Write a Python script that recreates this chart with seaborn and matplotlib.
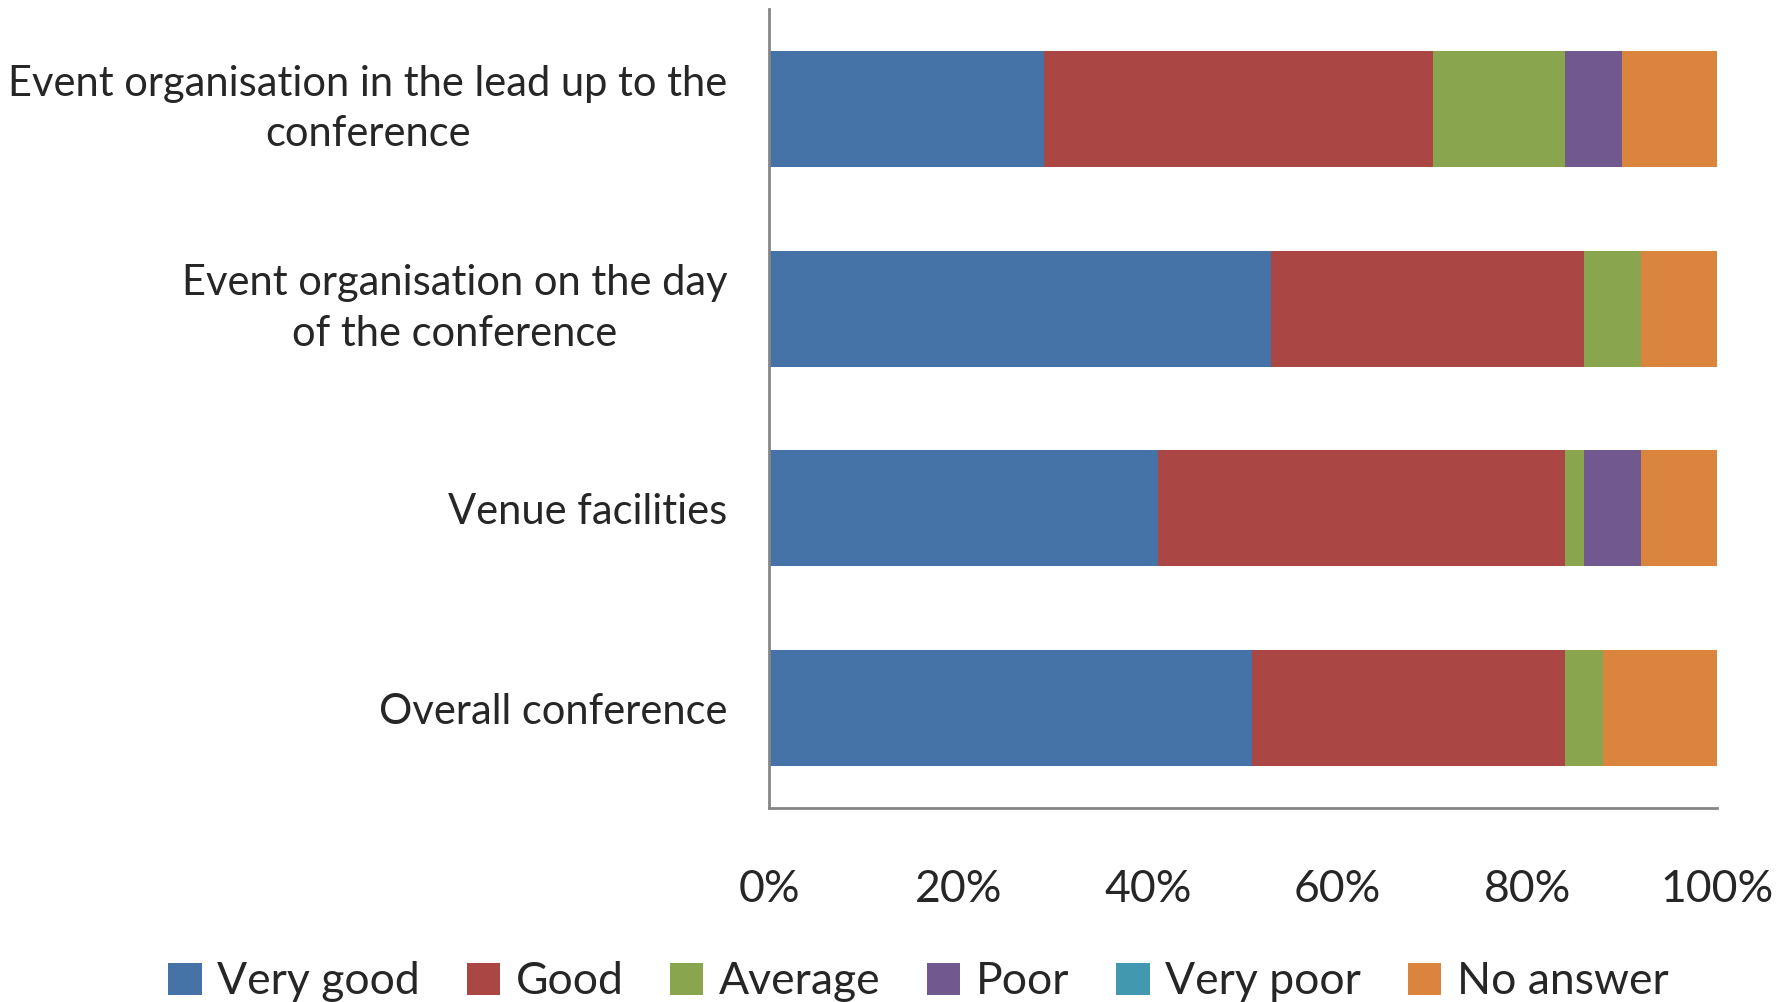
import numpy as np
import pandas as pd
import matplotlib
matplotlib.use("Agg")
import matplotlib.pyplot as plt
import seaborn as sns
from matplotlib.patches import Patch
from matplotlib.ticker import PercentFormatter

categories = [
    "Event organisation in the lead up to the\nconference",
    "Event organisation on the day\nof the conference",
    "Venue facilities",
    "Overall conference",
]
series = ["Very good", "Good", "Average", "Poor", "Very poor", "No answer"]
very_good = [29, 53, 41, 51]
good = [41, 33, 43, 33]
average = [14, 6, 2, 4]
poor = [6, 0, 6, 0]
very_poor = [0, 0, 0, 0]
no_answer = [10, 8, 8, 12]
colors = ["#4572A7", "#AA4643", "#89A54E", "#71588F", "#4198AF", "#DB843D"]

df = pd.DataFrame({
    "Question": categories,
    "Very good": very_good,
    "Good": good,
    "Average": average,
    "Poor": poor,
    "Very poor": very_poor,
    "No answer": no_answer,
})
cum = df[series].cumsum(axis=1)
cum["Question"] = df["Question"]

sns.set_style("white")
plt.rcParams["font.family"] = ["Lato", "DejaVu Sans"]

fig = plt.figure(figsize=(17.9, 10.02), dpi=100)
ax = fig.add_axes([769 / 1790, 1 - 808 / 1002, 948 / 1790, 799 / 1002])

# stacked bars: draw cumulative totals from the last series back to the first
for name, c in reversed(list(zip(series, colors))):
    sns.barplot(data=cum, x=name, y="Question", color=c, width=0.58,
                linewidth=0, saturation=1, ax=ax, orient="h")

ax.set_xlim(0, 100)
ax.set_ylim(3.5, -0.5)
ax.set_xticks([0, 20, 40, 60, 80, 100])
ax.xaxis.set_major_formatter(PercentFormatter(decimals=0))
ax.set_xlabel("")
ax.set_ylabel("")
ax.tick_params(axis="x", length=0, pad=44, labelsize=32)
ax.tick_params(axis="y", length=0, pad=30, labelsize=30)
for lbl in ax.get_yticklabels():
    lbl.set_multialignment("center")
    lbl.set_linespacing(1.4)
    if "\n" in lbl.get_text():
        lbl.set_verticalalignment("center")

for s in ["top", "right"]:
    ax.spines[s].set_visible(False)
for s in ["left", "bottom"]:
    ax.spines[s].set_color("#868686")
    ax.spines[s].set_linewidth(2)

handles = [Patch(facecolor=c, edgecolor="none") for c in colors]
fig.legend(handles, series, loc="center", bbox_to_anchor=(0.513, 0.02), ncol=6,
           frameon=False, fontsize=32, handlelength=0.75, handleheight=0.75,
           handletextpad=0.35, columnspacing=1.05)

fig.savefig("out.png", dpi=100)
